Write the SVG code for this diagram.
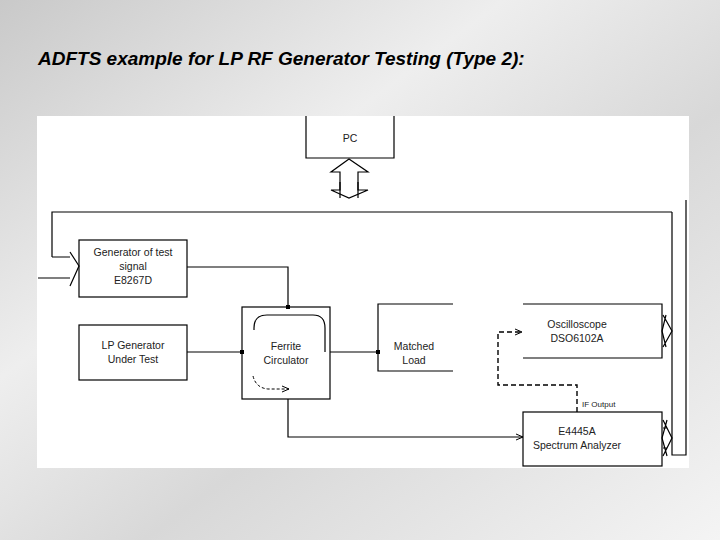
<svg xmlns="http://www.w3.org/2000/svg" width="720" height="540" viewBox="0 0 720 540">
<defs>
<linearGradient id="bg" x1="0" y1="0" x2="1" y2="1">
<stop offset="0" stop-color="#c9c9c9"/><stop offset="0.35" stop-color="#eeeeee"/><stop offset="0.6" stop-color="#d8d8d8"/><stop offset="1" stop-color="#f4f4f4"/>
</linearGradient>
<marker id="ah" markerWidth="8" markerHeight="8" refX="7" refY="4" orient="auto" markerUnits="userSpaceOnUse"><path d="M0,1 L7,4 L0,7" fill="none" stroke="#000"/></marker>
<marker id="dot" markerWidth="6" markerHeight="6" refX="3" refY="3" markerUnits="userSpaceOnUse"><rect x="1" y="1" width="4" height="4" fill="#000"/></marker>
</defs>
<style>
.b{fill:#fff;stroke:#000;stroke-width:1.2}
.l{fill:none;stroke:#000;stroke-width:1.2}
.t{font-family:"Liberation Sans",Arial,sans-serif;font-size:10.5px;fill:#222;text-anchor:middle}
</style>
<rect width="720" height="540" fill="url(#bg)"/>
<rect x="37" y="116" width="652" height="352" fill="#fff"/>
<text x="38" y="65" font-family="Liberation Sans,Arial,sans-serif" font-size="19" font-weight="bold" font-style="italic" fill="#000">ADFTS example for LP RF Generator Testing (Type 2):</text>
<g id="pc"><path class="b" d="M306,116 V158 H394 V116"/><text class="t" x="350" y="142">PC</text></g>
<g id="bus"><path class="l" d="M672,212 V455 H686 V200"/></g>
<g id="gen"><rect class="b" x="79" y="240" width="108" height="57"/><text class="t" x="133" y="256">Generator of test</text><text class="t" x="133" y="270">signal</text><text class="t" x="133" y="284">E8267D</text></g>
<g id="lpgen"><rect class="b" x="79" y="325" width="108" height="55"/><text class="t" x="133" y="349">LP Generator</text><text class="t" x="133" y="363">Under Test</text></g>
<g id="circ"><rect class="b" x="242" y="307" width="88" height="92"/><path class="l" d="M254,330 V328 Q254,315 267,315 H313 Q325,315 325,328 V352" stroke-width="1"/><path d="M253,376 Q256,388 268,389 H289" fill="none" stroke="#000" stroke-dasharray="3,2" marker-end="url(#ah)"/><text class="t" x="286" y="350">Ferrite</text><text class="t" x="286" y="364">Circulator</text></g>
<g id="load"><path class="b" d="M453,304 H378 V371 H453"/><text class="t" x="414" y="350">Matched</text><text class="t" x="414" y="364">Load</text></g>
<g id="osc"><path class="b" d="M523,304 H662 V358 H523"/><text class="t" x="577" y="328">Oscilloscope</text><text class="t" x="577" y="342">DSO6102A</text></g>
<g id="sa"><rect class="b" x="523" y="412" width="139" height="54"/><text class="t" x="577" y="435">E4445A</text><text class="t" x="577" y="449">Spectrum Analyzer</text></g>
<g id="connectors">
<path class="l" d="M340,198 V172 H331 L349,159 L368,172 H358 V198" stroke-width="1"/>
<path class="l" d="M340,182 V190 H331 L349,198 L368,190 H358 V182" stroke-width="1"/>
<path class="l" d="M52,257 V212 H672"/>
<path class="l" d="M52,257 H70 M38,278 H70"/>
<path class="l" d="M70,252 L79,266 L70,286" stroke-width="1"/>
<path class="l" d="M187,267 H288 V307" marker-end="url(#dot)"/>
<path class="l" d="M187,352 H242" marker-end="url(#dot)"/>
<path class="l" d="M330,352 H378" marker-end="url(#dot)"/>
<path class="l" d="M288,399 V437 H523" marker-end="url(#ah)"/>
<path fill="none" stroke="#000" stroke-width="1.4" stroke-dasharray="5,3" d="M577,412 V385 H498 V332 H522" marker-end="url(#ah)"/>
<text x="582" y="407" font-family="Liberation Sans,Arial,sans-serif" font-size="8" fill="#222">IF Output</text>
<path class="l" stroke-width="1" d="M666,315 L662,331 L666,347 M663,315 L672,331 L663,347"/>
<path class="l" stroke-width="1" d="M667,420 L662,438 L667,456 M663,420 L672,438 L663,456 M667,428 H663 M667,448 H663"/>
</g>
</svg>
